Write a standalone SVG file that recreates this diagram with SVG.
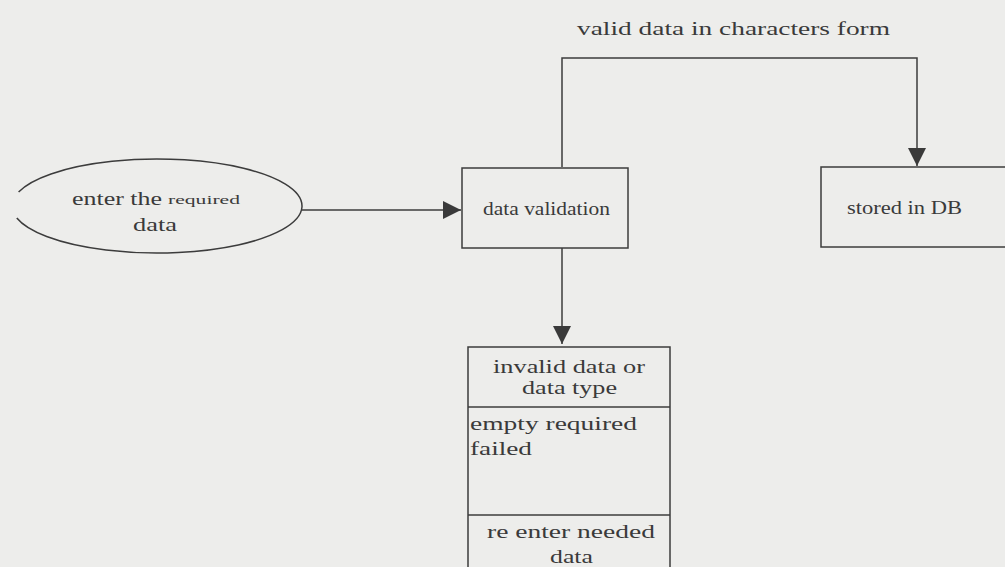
<svg xmlns="http://www.w3.org/2000/svg" width="1005" height="567" viewBox="0 0 1005 567">
<defs>
<marker id="ahl" viewBox="0 0 10 10" refX="10" refY="5" markerWidth="22" markerHeight="18" markerUnits="userSpaceOnUse" orient="auto">
<path d="M0,0 L10,5 L0,10 Z" fill="#3a3a3a"/>
</marker>
</defs>
<style>
.bg{fill:#ededeb}
.box{fill:none;stroke:#3c3c3c;stroke-width:1.5}
.ln{fill:none;stroke:#3c3c3c;stroke-width:1.5}
.t{font-family:"Liberation Serif","Times New Roman",serif;font-size:19px;fill:#3a3a3a}
.s{font-family:"Liberation Serif","Times New Roman",serif;font-size:12px;fill:#3a3a3a}
</style>
<rect class="bg" x="0" y="0" width="1005" height="567"/>
<text class="t" x="577" y="35" textLength="313" lengthAdjust="spacingAndGlyphs">valid data in characters form</text>
<g id="connectors">
<line class="ln" x1="302" y1="210" x2="461" y2="210" marker-end="url(#ahl)"/>
<polyline class="ln" points="562,167 562,58 917,58 917,166" marker-end="url(#ahl)"/>
<line class="ln" x1="562" y1="248" x2="562" y2="344" marker-end="url(#ahl)"/>
</g>
<g id="node-enter">
<path class="box" d="M18.6,192 A145,47 0 1 1 16.8,218"/>
<text class="t" x="72" y="205" textLength="90" lengthAdjust="spacingAndGlyphs">enter the</text>
<text class="s" x="168" y="204" textLength="72" lengthAdjust="spacingAndGlyphs">required</text>
<text class="t" x="133" y="231" textLength="44" lengthAdjust="spacingAndGlyphs">data</text>
</g>
<g id="node-validation">
<rect class="box" x="462" y="168" width="166" height="80"/>
<text class="t" x="483" y="215" textLength="127" lengthAdjust="spacingAndGlyphs">data validation</text>
</g>
<g id="node-db">
<rect class="box" x="821" y="167" width="190" height="80"/>
<text class="t" x="847" y="214" textLength="115" lengthAdjust="spacingAndGlyphs">stored in DB</text>
</g>
<g id="node-invalid">
<rect class="box" x="468" y="347" width="202" height="230"/>
<line class="ln" x1="468" y1="407" x2="670" y2="407"/>
<line class="ln" x1="468" y1="515" x2="670" y2="515"/>
<text class="t" x="493" y="373" textLength="152" lengthAdjust="spacingAndGlyphs">invalid data or</text>
<text class="t" x="522" y="394" textLength="95" lengthAdjust="spacingAndGlyphs">data type</text>
<text class="t" x="470" y="430" textLength="167" lengthAdjust="spacingAndGlyphs">empty required</text>
<text class="t" x="470" y="455" textLength="62" lengthAdjust="spacingAndGlyphs">failed</text>
<text class="t" x="487" y="538" textLength="168" lengthAdjust="spacingAndGlyphs">re enter needed</text>
<text class="t" x="550" y="563" textLength="43" lengthAdjust="spacingAndGlyphs">data</text>
</g>
</svg>
